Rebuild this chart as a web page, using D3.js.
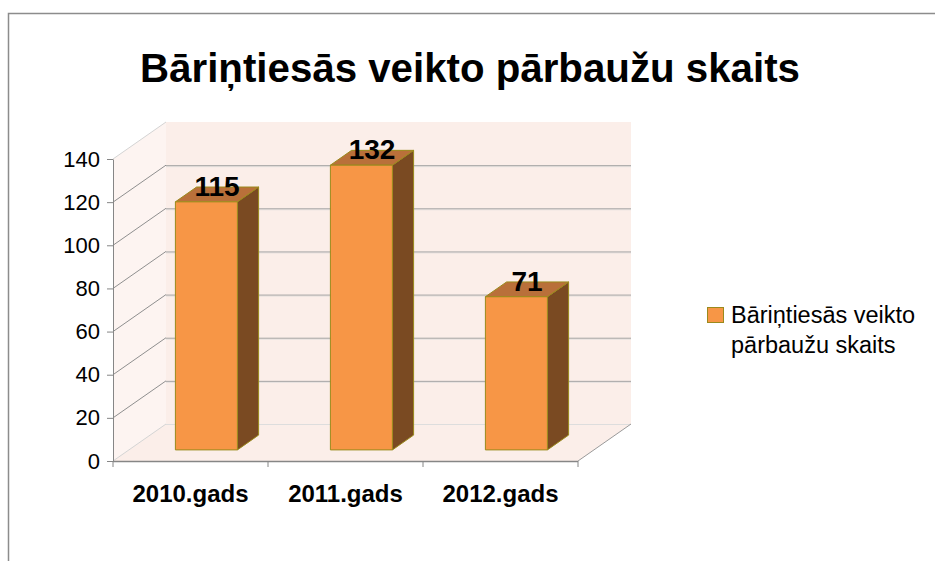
<!DOCTYPE html>
<html>
<head>
<meta charset="utf-8">
<script src="https://cdn.jsdelivr.net/npm/d3@7"></script>
<style>
  body { margin: 0; background: #fff; }
  text { font-family: "Liberation Sans", Arial, sans-serif; }
</style>
</head>
<body>
<div id="main"></div>
<script>
// DATA
const categories = ['2010.gads', '2011.gads', '2012.gads']
const values = [115, 132, 71]
const yTicks = [0, 20, 40, 60, 80, 100, 120, 140]
const title = 'Bāriņtiesās veikto pārbaužu skaits'
const legendLines = ['Bāriņtiesās veikto', 'pārbaužu skaits']

// SETUP
const width = 935
const height = 561

// colours
const wallFill = '#fbeee9'
const gridGray = '#a5a5a5'
const axisGray = '#868686'
const barFront = '#f79646'
const barTop = '#b9703a'
const barSide = '#7a4a22'
const barStroke = '#9a8a1c'

// 3d depth vector (front plane -> back wall)
const DX = 53, DY = -37
const D_FRONT = 0.3, D_BACK = 0.7

let y = d3.scaleLinear()
    .domain([0, 140])
    .range([461, 159])

let slot = d3.scaleBand()
    .domain(categories)
    .range([113, 578])

let svg = d3.select('#main').append('svg')
    .attr('width', width)
    .attr('height', height)

// frame
svg.append('rect')
    .attr('x', 8.5).attr('y', 13.5)
    .attr('width', width + 20).attr('height', height + 20)
    .attr('fill', 'none')
    .attr('stroke', '#8c8c8c')
    .attr('stroke-width', 1.5)

// title
let t = svg.append('text')
    .attr('x', 470).attr('y', 82)
    .attr('text-anchor', 'middle')
    .attr('font-weight', 'bold')
    .attr('font-size', 35)
    .text(title)
// fit to width of the original title
let tw = t.node().getComputedTextLength()
t.attr('font-size', 35 * 660 / tw)

let x0 = slot.range()[0], x1 = slot.range()[1]
let pt = (x, yy, d) => [x + DX * d, yy + DY * d]
let poly = pts => 'M' + pts.map(p => p.join(',')).join('L') + 'Z'

// walls
let walls = svg.append('g')
// back wall
walls.append('path')
    .attr('d', poly([pt(x0, y(0), 1), pt(x1, y(0), 1), pt(x1, y(140), 1), pt(x0, y(140), 1)]))
    .attr('fill', wallFill)
// left wall
walls.append('path')
    .attr('d', poly([pt(x0, y(0), 0), pt(x0, y(0), 1), pt(x0, y(140), 1), pt(x0, y(140), 0)]))
    .attr('fill', '#fdf4f1')
// floor
walls.append('path')
    .attr('d', poly([pt(x0, y(0), 0), pt(x1, y(0), 0), pt(x1, y(0), 1), pt(x0, y(0), 1)]))
    .attr('fill', wallFill)

// back wall gridlines
let inner = yTicks.filter(v => v > 0 && v < 140)
walls.selectAll('line.grid-hi').data(inner)
    .enter().append('line')
        .attr('class', 'grid-hi')
        .attr('x1', x0 + DX).attr('x2', x1 + DX)
        .attr('y1', d => y(d) + DY + 1.5).attr('y2', d => y(d) + DY + 1.5)
        .attr('stroke', '#e4e0de')
walls.selectAll('line.grid').data(inner)
    .enter().append('line')
        .attr('class', 'grid')
        .attr('x1', x0 + DX).attr('x2', x1 + DX)
        .attr('y1', d => y(d) + DY + 0.5).attr('y2', d => y(d) + DY + 0.5)
        .attr('stroke', gridGray)
// back edge of the floor
walls.append('line')
    .attr('x1', x0 + DX).attr('x2', x1 + DX)
    .attr('y1', y(0) + DY + 0.5).attr('y2', y(0) + DY + 0.5)
    .attr('stroke', '#dddddd')

// left wall diagonals
walls.selectAll('line.diag').data(yTicks)
    .enter().append('line')
        .attr('class', 'diag')
        .attr('x1', x0).attr('y1', d => y(d))
        .attr('x2', x0 + DX).attr('y2', d => y(d) + DY)
        .attr('stroke', d => (d === 0 || d === 140) ? '#d4d4d4' : '#8f8f8f')

// floor right edge
walls.append('line')
    .attr('x1', x1).attr('y1', y(0))
    .attr('x2', x1 + DX).attr('y2', y(0) + DY)
    .attr('stroke', '#9a9a9a')

// BARS
let bw = slot.bandwidth() * 0.4
let barX = c => slot(c) + slot.bandwidth() * 0.3

let bars = svg.selectAll('g.bar')
    .data(categories.map((c, i) => ({cat: c, value: values[i]})))
    .enter().append('g')
        .attr('class', 'bar')

function faces(d) {
    let l = barX(d.cat), r = l + bw
    let yb = y(0), yt = y(d.value)
    return {
        front: [pt(l, yb, D_FRONT), pt(r, yb, D_FRONT), pt(r, yt, D_FRONT), pt(l, yt, D_FRONT)],
        side: [pt(r, yb, D_FRONT), pt(r, yb, D_BACK), pt(r, yt, D_BACK), pt(r, yt, D_FRONT)],
        top: [pt(l, yt, D_FRONT), pt(r, yt, D_FRONT), pt(r, yt, D_BACK), pt(l, yt, D_BACK)]
    }
}

bars.append('path')
    .attr('d', d => poly(faces(d).side))
    .attr('fill', barSide)
    .attr('stroke', barStroke)
    .attr('stroke-linejoin', 'round')
bars.append('path')
    .attr('d', d => poly(faces(d).top))
    .attr('fill', barTop)
    .attr('stroke', barStroke)
    .attr('stroke-linejoin', 'round')
bars.append('path')
    .attr('d', d => poly(faces(d).front))
    .attr('fill', barFront)
    .attr('stroke', barStroke)
    .attr('stroke-linejoin', 'round')

// value labels
bars.append('text')
    .attr('x', d => barX(d.cat) + bw / 2 + DX * (D_FRONT + D_BACK) / 2)
    .attr('y', d => y(d.value) + DY * D_FRONT - 6)
    .attr('text-anchor', 'middle')
    .attr('font-weight', 'bold')
    .attr('font-size', 28)
    .attr('fill', '#000')
    .text(d => d.value)

// AXES
let yAxis = d3.axisLeft(y)
    .tickValues(yTicks)
    .tickSize(6)
    .tickSizeOuter(0)
    .tickPadding(7)

let gy = svg.append('g')
    .attr('transform', `translate(${x0},0)`)
    .call(yAxis)
gy.select('.domain').attr('stroke', axisGray)
gy.selectAll('.tick line').attr('stroke', axisGray)
gy.selectAll('.tick text')
    .attr('font-family', '"Liberation Sans", Arial, sans-serif')
    .attr('font-size', 22)
    .attr('fill', '#000')

// x axis (front floor edge)
let gx = svg.append('g')
gx.append('line')
    .attr('x1', x0).attr('x2', x1)
    .attr('y1', y(0) + 0.5).attr('y2', y(0) + 0.5)
    .attr('stroke', axisGray)
    .attr('stroke-width', 1.5)
gx.selectAll('line.xtick')
    .data(categories.map(c => slot(c)).concat([x1]))
    .enter().append('line')
        .attr('class', 'xtick')
        .attr('x1', d => d).attr('x2', d => d)
        .attr('y1', y(0)).attr('y2', y(0) + 6)
        .attr('stroke', axisGray)
gx.selectAll('text')
    .data(categories)
    .enter().append('text')
        .attr('x', d => slot(d) + slot.bandwidth() / 2)
        .attr('y', 502)
        .attr('text-anchor', 'middle')
        .attr('font-weight', 'bold')
        .attr('font-size', 24)
        .text(d => d)

// LEGEND
let legend = svg.append('g')
legend.append('rect')
    .attr('x', 707.5).attr('y', 307.5)
    .attr('width', 16).attr('height', 15)
    .attr('fill', barFront)
    .attr('stroke', barStroke)
legend.selectAll('text')
    .data(legendLines)
    .enter().append('text')
        .attr('x', 731)
        .attr('y', (d, i) => 323 + i * 30)
        .attr('font-size', 23.5)
        .text(d => d)
</script>
</body>
</html>
